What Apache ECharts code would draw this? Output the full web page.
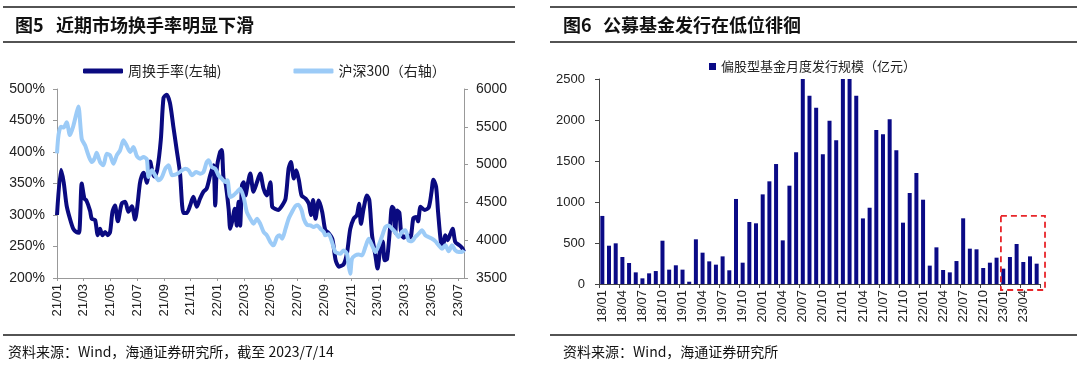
<!DOCTYPE html>
<html><head><meta charset="utf-8">
<script src="https://cdn.jsdelivr.net/npm/echarts@6/dist/echarts.min.js"></script>
<style>html,body{margin:0;padding:0;background:#fff}#c{width:1080px;height:365px}</style>
</head><body><div id="c"></div><script>
// ---- Left chart: weekly turnover (%) and CSI300, x = months since 2021-01 ----
const turnover = [
[0.0,300],[0.3,372],[0.5,352],[0.72,315],[0.97,294],[1.22,278],[1.45,273],[1.65,272],[1.85,350],[2.05,326],[2.2,323],[2.47,307],[2.6,294],[2.85,292],[3.05,268],[3.22,278],[3.4,268],[3.6,273],[3.8,268],[3.97,273],[4.15,305],[4.34,315],[4.55,290],[4.84,318],[5.1,321],[5.34,305],[5.6,314],[5.84,293],[6.0,312],[6.2,350],[6.34,362],[6.5,367],[6.72,351],[6.97,385],[7.15,367],[7.3,361],[7.5,372],[7.77,420],[7.97,486],[8.2,491],[8.45,478],[8.7,441],[8.95,404],[9.2,367],[9.46,303],[9.7,303],[9.96,315],[10.2,329],[10.46,313],[10.7,326],[10.96,337],[11.2,342],[11.46,363],[11.7,379],[11.84,315],[11.96,374],[12.2,400],[12.33,403],[12.46,358],[12.6,352],[12.84,310],[12.96,278],[13.1,289],[13.3,310],[13.45,283],[13.58,321],[13.7,283],[13.84,347],[13.96,352],[14.1,331],[14.25,347],[14.46,366],[14.7,337],[14.96,352],[15.2,366],[15.45,342],[15.7,331],[15.96,352],[16.1,313],[16.3,310],[16.55,308],[16.84,315],[17.1,326],[17.33,374],[17.5,384],[17.72,358],[17.9,371],[18.1,355],[18.3,331],[18.6,326],[18.84,318],[19.0,300],[19.16,324],[19.34,294],[19.58,323],[19.84,305],[20.07,276],[20.3,272],[20.6,262],[20.85,228],[21.1,218],[21.45,222],[21.7,240],[21.94,278],[22.19,294],[22.44,300],[22.6,318],[22.74,286],[22.94,310],[23.19,331],[23.37,323],[23.57,268],[23.82,236],[23.98,215],[24.19,247],[24.37,258],[24.51,228],[24.69,230],[24.9,275],[25.06,313],[25.19,310],[25.31,272],[25.44,307],[25.61,304],[25.76,270],[25.94,264],[26.19,268],[26.44,265],[26.66,295],[26.86,297],[27.01,290],[27.2,313],[27.51,308],[27.81,312],[28.01,335],[28.16,356],[28.36,345],[28.51,305],[28.72,257],[28.86,250],[29.06,268],[29.23,260],[29.43,270],[29.6,278],[29.8,257],[30.1,252],[30.3,248],[30.45,242]
];
const csi300 = [
[0.0,5150],[0.12,5400],[0.3,5500],[0.5,5490],[0.72,5560],[0.97,5390],[1.22,5510],[1.47,5690],[1.6,5770],[1.85,5340],[2.1,5255],[2.35,5123],[2.6,5034],[2.8,5078],[2.97,5157],[3.22,5034],[3.47,4990],[3.72,5144],[3.97,5123],[4.22,5012],[4.47,5123],[4.72,5189],[4.97,5321],[5.2,5255],[5.47,5167],[5.72,5233],[5.97,5113],[6.22,5078],[6.47,5100],[6.72,5070],[6.85,4836],[7.1,4924],[7.35,4858],[7.6,4792],[7.85,4836],[8.1,4946],[8.35,4990],[8.6,4858],[8.85,4866],[9.1,4890],[9.35,4924],[9.6,4946],[9.85,4924],[10.1,4858],[10.4,4902],[10.7,4880],[10.96,4902],[11.2,5034],[11.34,5056],[11.58,4968],[11.84,4946],[12.08,4858],[12.33,4814],[12.58,4770],[12.75,4792],[12.96,4571],[13.2,4593],[13.46,4637],[13.7,4681],[13.96,4571],[14.2,4373],[14.46,4284],[14.7,4218],[14.96,4284],[15.2,4218],[15.46,4108],[15.7,4064],[15.96,3976],[16.2,3932],[16.46,4042],[16.65,4064],[16.84,4020],[17.1,4152],[17.33,4284],[17.58,4373],[17.84,4452],[18.05,4470],[18.3,4395],[18.46,4284],[18.7,4204],[18.96,4196],[19.2,4174],[19.46,4196],[19.7,4152],[19.96,4108],[20.07,4064],[20.32,4080],[20.57,3976],[20.82,3843],[21.0,3830],[21.19,3821],[21.44,3865],[21.69,3821],[21.82,3667],[21.94,3557],[22.07,3755],[22.32,3799],[22.57,3810],[22.82,3799],[23.07,3910],[23.32,4020],[23.57,3932],[23.82,3843],[24.07,3932],[24.3,4042],[24.57,4174],[24.8,4196],[25.07,4152],[25.3,4108],[25.56,4042],[25.8,4108],[26.07,4130],[26.3,3998],[26.56,3987],[26.8,4042],[27.06,4086],[27.3,4130],[27.56,4064],[27.8,4042],[28.06,4020],[28.3,3987],[28.56,3932],[28.8,3888],[29.06,3932],[29.3,3854],[29.56,3932],[29.8,3865],[30.06,3843],[30.3,3843],[30.45,3870]
];
// ---- Right chart: monthly issuance (亿元) ----
const months = [
'18/01','18/02','18/03','18/04','18/05','18/06','18/07','18/08','18/09','18/10','18/11','18/12',
'19/01','19/02','19/03','19/04','19/05','19/06','19/07','19/08','19/09','19/10','19/11','19/12',
'20/01','20/02','20/03','20/04','20/05','20/06','20/07','20/08','20/09','20/10','20/11','20/12',
'21/01','21/02','21/03','21/04','21/05','21/06','21/07','21/08','21/09','21/10','21/11','21/12',
'22/01','22/02','22/03','22/04','22/05','22/06','22/07','22/08','22/09','22/10','22/11','22/12',
'23/01','23/02','23/03','23/04','23/05','23/06'];
const issuance = [
830,467,496,329,256,142,69,130,158,528,175,228,
175,28,545,382,276,236,337,167,1037,260,756,740,
1093,1252,1463,532,1199,1606,2500,2296,2150,1582,1990,1753,
2500,2500,2296,800,930,1878,1825,2008,1630,748,1110,1354,
1028,224,447,171,142,280,801,431,423,195,260,321,
187,329,488,268,337,248];
const boxFrom = '23/01', boxTo = '23/06', boxTop = 830;

const FF = "'Liberation Sans','Noto Sans CJK SC',sans-serif";
const CJK = "'Noto Sans CJK SC',sans-serif";
const DARK = '#0a0a80', LIGHT = '#9ccbf7', BAR = '#0a0a86';

function monthLabel(v){
  if (Math.abs(v - Math.round(v)) > 1e-6) return '';
  const n = Math.round(v);
  const yy = 21 + Math.floor(n/12), mm = n % 12 + 1;
  return yy + '/' + (mm < 10 ? '0' + mm : mm);
}
const plain = v => String(v);

const chart = echarts.init(document.getElementById('c'));
const hline = (x1,x2,y)=>({type:'line',shape:{x1:x1,y1:y,x2:x2,y2:y},style:{stroke:'#1a1a1a',lineWidth:1.5},silent:true});
const txt = (x,y,t,size,bold,ff)=>({type:'text',x:x,y:y,style:{text:t,fontSize:size,fontWeight:bold?'bold':'normal',fontFamily:ff||CJK,fill:'#111',textVerticalAlign:'middle',verticalAlign:'middle'},silent:true});

chart.setOption({
  animation:false,
  backgroundColor:'#fff',
  textStyle:{fontFamily:FF},
  graphic:[
    hline(3,515,7), hline(3,515,42), hline(3,515,335),
    hline(550,1077,7), hline(550,1077,42), hline(550,1077,335),
    txt(15,25,'图5',18,true), txt(56,25,'近期市场换手率明显下滑',18,true),
    txt(563,25,'图6',18,true), txt(603,25,'公募基金发行在低位徘徊',18,true),
    txt(8,352,'资料来源：Wind，海通证券研究所，截至 2023/7/14',14,false),
    txt(563,352,'资料来源：Wind，海通证券研究所',14,false)
  ],
  legend:[
    {left:78, top:59, itemWidth:40, itemHeight:5, itemGap:72, icon:'roundRect',
     textStyle:{fontSize:14, color:'#222', fontFamily:CJK},
     data:['周换手率(左轴)','沪深300（右轴）']},
    {left:704, top:55, itemWidth:7, itemHeight:7, icon:'rect',
     textStyle:{fontSize:13, color:'#222', fontFamily:CJK},
     data:['偏股型基金月度发行规模（亿元）']}
  ],
  grid:[
    {left:57, top:89, width:407, height:189},
    {left:599, top:79, width:441, height:205}
  ],
  xAxis:[
    {type:'value', gridIndex:0, min:0, max:30.45, interval:2,
     axisLine:{show:true, lineStyle:{color:'#999', width:1}},
     axisTick:{show:true, length:3, lineStyle:{color:'#999'}},
     splitLine:{show:false},
     axisLabel:{rotate:90, fontSize:13, color:'#222', margin:6, formatter:monthLabel, showMaxLabel:false}},
    {type:'category', gridIndex:1, data:months, boundaryGap:true,
     axisLine:{show:true, lineStyle:{color:'#444', width:1}},
     axisTick:{show:true, interval:2, length:4, lineStyle:{color:'#444'}},
     axisLabel:{interval:2, rotate:90, fontSize:13, color:'#222', margin:6}}
  ],
  yAxis:[
    {type:'value', gridIndex:0, min:200, max:500, interval:50, position:'left',
     axisLine:{show:true, lineStyle:{color:'#999'}},
     axisTick:{show:true, length:4, lineStyle:{color:'#999'}},
     splitLine:{show:false},
     axisLabel:{formatter:'{value}%', fontSize:14, color:'#222', margin:12}},
    {type:'value', gridIndex:0, min:3500, max:6000, interval:500, position:'right',
     axisLine:{show:true, lineStyle:{color:'#999'}},
     axisTick:{show:true, length:4, lineStyle:{color:'#999'}},
     splitLine:{show:false},
     axisLabel:{fontSize:14, color:'#222', margin:12, formatter:plain}},
    {type:'value', gridIndex:1, min:0, max:2500, interval:500,
     axisLine:{show:true, lineStyle:{color:'#444'}},
     axisTick:{show:true, length:4, lineStyle:{color:'#444'}},
     splitLine:{show:false},
     axisLabel:{fontSize:13, color:'#222', margin:14, formatter:plain}}
  ],
  series:[
    {name:'周换手率(左轴)', type:'line', xAxisIndex:0, yAxisIndex:0, data:turnover,
     showSymbol:false, smooth:0.25, lineStyle:{color:DARK, width:4}, itemStyle:{color:DARK}, z:2},
    {name:'沪深300（右轴）', type:'line', xAxisIndex:0, yAxisIndex:1, data:csi300,
     showSymbol:false, smooth:0.25, lineStyle:{color:LIGHT, width:4}, itemStyle:{color:LIGHT}, z:3},
    {name:'偏股型基金月度发行规模（亿元）', type:'bar', xAxisIndex:1, yAxisIndex:2, data:issuance,
     barWidth:4, itemStyle:{color:BAR}, clip:true}
  ]
});

// dashed highlight box derived from the axes
const bandW = 441 / months.length;
const xa = chart.convertToPixel({xAxisIndex:1}, boxFrom);
const xb = chart.convertToPixel({xAxisIndex:1}, boxTo);
const yt = chart.convertToPixel({yAxisIndex:2}, boxTop);
const y0 = chart.convertToPixel({yAxisIndex:2}, 0);
chart.setOption({graphic:[{id:'box', type:'rect',
  shape:{x:xa - bandW*0.35, y:yt, width:(xb - xa) + bandW*1.6, height:(y0 - yt) + 6},
  style:{fill:'none', stroke:'#e8262a', lineWidth:1.8, lineDash:[6,4]}, silent:true, z:10}]});
</script></body></html>
